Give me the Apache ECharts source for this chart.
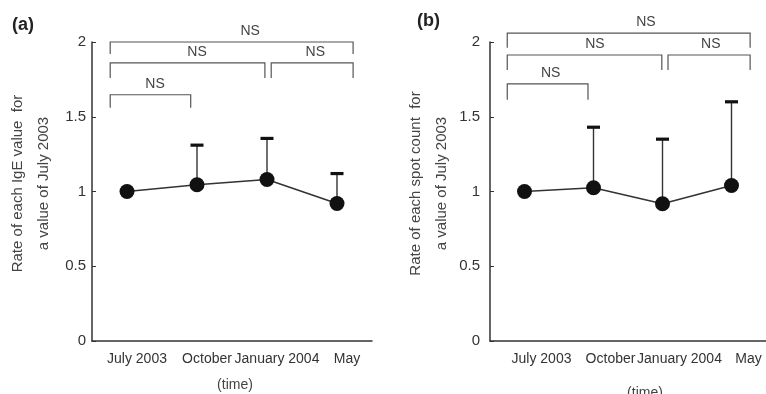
<!DOCTYPE html>
<html>
<head>
<meta charset="utf-8">
<style>
  html, body { margin: 0; padding: 0; background: #fff; }
  #main { width: 766px; height: 394px; }
</style>
<script src="https://cdn.jsdelivr.net/npm/echarts@6/dist/echarts.min.js"></script>
</head>
<body>
<div id="main"></div>
<script>
// categories (time points)
var months = ['July 2003', 'October', 'January 2004', 'May'];
var yTicks = [0, 0.5, 1, 1.5, 2];

// (a) IgE value, ratio to July 2003
var igeMean = [1.00, 1.045, 1.08, 0.92];
var igeUpper = [null, 1.31, 1.355, 1.12];

// (b) spot count, ratio to July 2003
var spotMean = [1.00, 1.025, 0.918, 1.04];
var spotUpper = [null, 1.43, 1.35, 1.60];

// significance brackets: [from, to, top, end, labelX] in axis units
var bracketsA = [
    [-0.24, 3.23, 2.00, 1.92, 1.76],
    [-0.24, 1.97, 1.86, 1.76, 1.00],
    [2.06, 3.23, 1.86, 1.76, 2.69],
    [-0.24, 0.91, 1.647, 1.56, 0.40]
];
var bracketsB = [
    [-0.25, 3.27, 2.06, 1.962, 1.76],
    [-0.25, 1.99, 1.913, 1.813, 1.02],
    [2.08, 3.27, 1.913, 1.813, 2.70],
    [-0.25, 0.92, 1.72, 1.613, 0.38]
];

var FONT = "'Liberation Sans', Arial, Helvetica, sans-serif";

function errData(mean, upper) {
    var out = [];
    for (var i = 0; i < mean.length; i++) {
        if (upper[i] != null) out.push([i, mean[i], upper[i]]);
    }
    return out;
}

// upper error bar with a thick cap
function renderErr(params, api) {
    var p0 = api.coord([api.value(0), api.value(1)]);
    var p1 = api.coord([api.value(0), api.value(2)]);
    return {
        type: 'group',
        children: [
            {type: 'line', shape: {x1: p0[0], y1: p0[1], x2: p1[0], y2: p1[1]},
                style: {stroke: '#333', lineWidth: 1.4}},
            {type: 'line', shape: {x1: p1[0] - 6.5, y1: p1[1], x2: p1[0] + 6.5, y2: p1[1]},
                style: {stroke: '#111', lineWidth: 3.2}}
        ]
    };
}

// NS bracket
function renderBracket(params, api) {
    var x0 = api.value(0), x1 = api.value(1), top = api.value(2), end = api.value(3);
    var pts = [api.coord([x0, end]), api.coord([x0, top]), api.coord([x1, top]), api.coord([x1, end])];
    var lab = api.coord([api.value(4), top]);
    return {
        type: 'group',
        children: [
            {type: 'polyline', shape: {points: pts},
                style: {stroke: '#555', lineWidth: 1.2, fill: null}},
            {type: 'text', x: lab[0], y: lab[1] - 11,
                style: {text: 'NS', fill: '#444', font: '14px ' + FONT,
                    textAlign: 'center', textVerticalAlign: 'middle'}}
        ]
    };
}

function catAxis(grid, labelShift, nameShift, nameGap) {
    return {
        type: 'category', gridIndex: grid, data: months,
        boundaryGap: true,
        axisLine: {onZero: false, lineStyle: {color: '#333', width: 1.5}},
        axisTick: {inside: true, length: 3, lineStyle: {color: '#777'}},
        axisLabel: {interval: 0, margin: 11, fontSize: 14, color: '#333',
            fontFamily: FONT, padding: [0, 0, 0, labelShift]},
        name: '(time)', nameLocation: 'middle', nameGap: nameGap,
        nameTextStyle: {fontSize: 14, color: '#444', fontFamily: FONT,
            padding: [0, 0, 0, nameShift]}
    };
}

function valAxis(grid, title, labelMargin, nameGap) {
    return {
        type: 'value', gridIndex: grid, min: 0, max: 2, interval: 0.5,
        splitLine: {show: false},
        axisLine: {show: true, onZero: false, lineStyle: {color: '#333', width: 1.5}},
        axisTick: {show: true, inside: true, length: 4, lineStyle: {color: '#333'}},
        axisLabel: {fontSize: 15, color: '#333', fontFamily: FONT, margin: labelMargin},
        name: title, nameLocation: 'middle', nameGap: nameGap,
        nameTextStyle: {fontSize: 15, lineHeight: 26, color: '#444', fontFamily: FONT,
            padding: [0, 0, 0, 16]}
    };
}

var dom = document.getElementById('main');
var myChart = echarts.init(dom);

var option = {
    backgroundColor: '#fff',
    animation: false,
    title: [
        {text: '(a)', left: 7, top: 11, textStyle: {fontSize: 18, fontWeight: 'bold', color: '#222', fontFamily: FONT}},
        {text: '(b)', left: 412, top: 7, textStyle: {fontSize: 18, fontWeight: 'bold', color: '#222', fontFamily: FONT}}
    ],
    grid: [
        {left: 92, top: 42, width: 280, height: 299, containLabel: false, outerBoundsMode: 'none'},
        {left: 490, top: 42, width: 276, height: 299, containLabel: false, outerBoundsMode: 'none'}
    ],
    xAxis: [
        catAxis(0, 20, 6, 37),
        {type: 'value', gridIndex: 0, min: -0.5, max: 3.5, show: false},
        catAxis(1, 34, 34, 45),
        {type: 'value', gridIndex: 1, min: -0.5, max: 3.5, show: false}
    ],
    yAxis: [
        valAxis(0, 'Rate of each IgE value  for\na value of July 2003', 6, 35),
        valAxis(1, 'Rate of each spot count  for\na value of July 2003', 10, 34)
    ],
    series: [
        {type: 'custom', xAxisIndex: 1, yAxisIndex: 0, z: 1, renderItem: renderErr,
            data: errData(igeMean, igeUpper), encode: {x: 0, y: 1}},
        {type: 'line', xAxisIndex: 0, yAxisIndex: 0, z: 3, data: igeMean,
            symbol: 'circle', symbolSize: 15,
            lineStyle: {color: '#333', width: 1.6}, itemStyle: {color: '#111'}},
        {type: 'custom', xAxisIndex: 1, yAxisIndex: 0, z: 2, renderItem: renderBracket,
            data: bracketsA, encode: {x: 0, y: 2}},

        {type: 'custom', xAxisIndex: 3, yAxisIndex: 1, z: 1, renderItem: renderErr,
            data: errData(spotMean, spotUpper), encode: {x: 0, y: 1}},
        {type: 'line', xAxisIndex: 2, yAxisIndex: 1, z: 3, data: spotMean,
            symbol: 'circle', symbolSize: 15,
            lineStyle: {color: '#333', width: 1.6}, itemStyle: {color: '#111'}},
        {type: 'custom', xAxisIndex: 3, yAxisIndex: 1, z: 2, renderItem: renderBracket,
            data: bracketsB, encode: {x: 0, y: 2}}
    ]
};

myChart.setOption(option, true);
</script>
</body>
</html>
